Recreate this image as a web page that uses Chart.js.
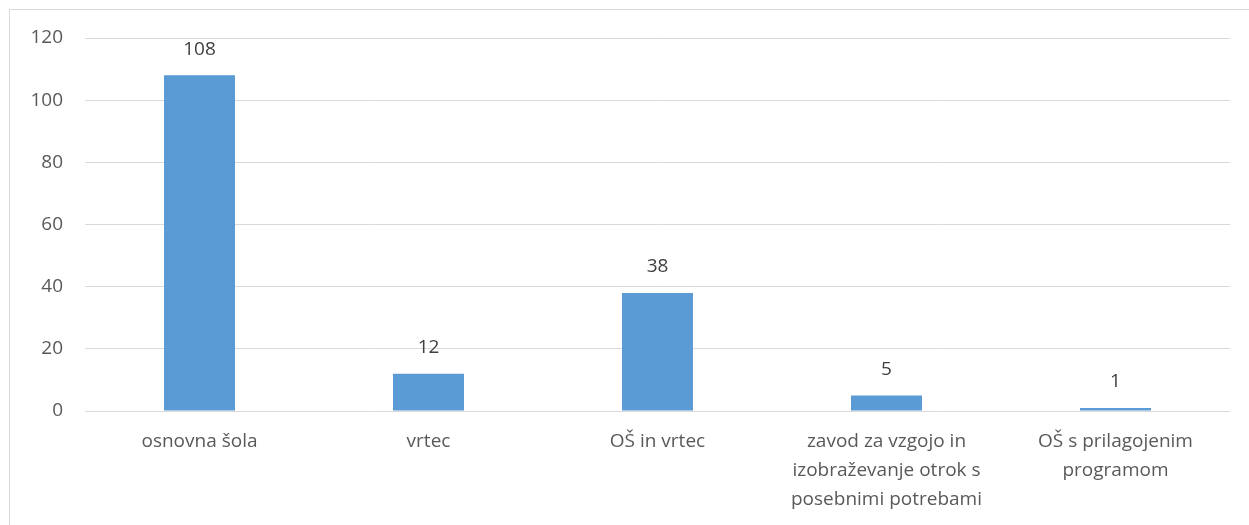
<!DOCTYPE html>
<html>
<head>
<meta charset="utf-8">
<script src="https://cdn.jsdelivr.net/npm/chart.js@4"></script>
<style>
html, body { margin: 0; padding: 0; background: #fff; overflow: hidden; }
#wrap { position: relative; width: 1249px; height: 525px; }
#frame { position: absolute; left: 9px; top: 9px; width: 1400px; height: 700px; border: 1px solid #d9d9d9; box-sizing: border-box; }
canvas { position: absolute; left: 0; top: 0; }
</style>
</head>
<body>
<div id="wrap">
  <div id="frame"></div>
  <canvas id="chart" width="1249" height="525"></canvas>
</div>
<script>
// categories (multi-line labels as arrays)
var categories = [
  'osnovna šola',
  'vrtec',
  'OŠ in vrtec',
  ['zavod za vzgojo in', 'izobraževanje otrok s', 'posebnimi potrebami'],
  ['OŠ s prilagojenim', 'programom']
]
var values = [108, 12, 38, 5, 1]
var yTicks = [0, 20, 40, 60, 80, 100, 120]

var fontFamily = '"Open Sans", sans-serif'

// draws the number above each bar
var valueLabels = {
  id: 'valueLabels',
  afterDatasetsDraw: function(chart) {
    var ctx = chart.ctx
    var meta = chart.getDatasetMeta(0)
    ctx.save()
    ctx.font = '19px ' + fontFamily
    ctx.fillStyle = '#404040'
    ctx.textAlign = 'center'
    ctx.textBaseline = 'middle'
    meta.data.forEach(function(bar, i) {
      ctx.fillText(values[i], bar.x, bar.y - 26)
    })
    ctx.restore()
  }
}

var ctx = document.getElementById('chart').getContext('2d')
var myChart = new Chart(ctx, {
  type: 'bar',
  data: {
    labels: categories,
    datasets: [{
      data: values,
      backgroundColor: '#5B9BD5',
      categoryPercentage: 1,
      barPercentage: 0.31
    }]
  },
  options: {
    responsive: false,
    animation: false,
    layout: { padding: { top: 38, right: 19, left: 0, bottom: 0 } },
    plugins: {
      legend: { display: false },
      tooltip: { enabled: false }
    },
    scales: {
      x: {
        grid: { display: false, drawTicks: false },
        border: { display: false },
        ticks: {
          color: '#595959',
          font: { family: fontFamily, size: 19, lineHeight: 1.53 },
          padding: 16,
          maxRotation: 0,
          autoSkip: false
        },
        afterFit: function(scale) { scale.height = 114 }
      },
      y: {
        min: 0,
        max: 120,
        afterBuildTicks: function(scale) {
          scale.ticks = yTicks.map(function(v) { return { value: v } })
        },
        grid: { color: '#d9d9d9', lineWidth: 1, drawTicks: false },
        border: { display: false },
        ticks: {
          color: '#595959',
          font: { family: fontFamily, size: 19 },
          padding: 22
        },
        afterFit: function(scale) { scale.width = 85 }
      }
    }
  },
  plugins: [valueLabels]
})
</script>
</body>
</html>
